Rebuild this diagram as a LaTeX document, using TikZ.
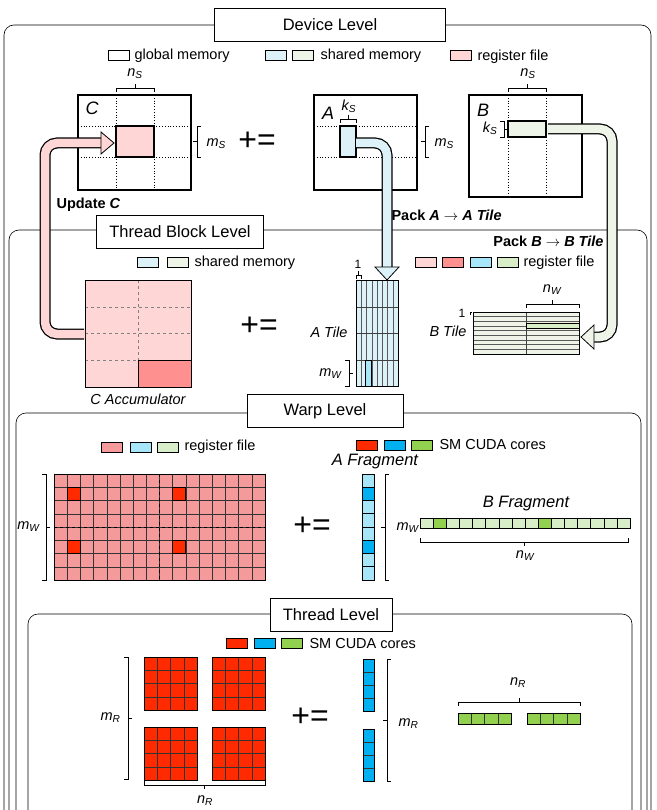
\documentclass[tikz,border=0pt]{standalone}
\usepackage{fontspec}
\setmainfont{Liberation Sans}
\definecolor{lpink}{HTML}{FFD6D6}
\definecolor{dpink}{HTML}{FF9090}
\definecolor{wpink}{HTML}{F49A9A}
\definecolor{cred}{HTML}{FF2A00}
\definecolor{lblue}{HTML}{DDF2F8}
\definecolor{rblue}{HTML}{A6E6F8}
\definecolor{cblue}{HTML}{00B0F0}
\definecolor{lgreen}{HTML}{EEF4E8}
\definecolor{rgreen}{HTML}{D8EEC8}
\definecolor{cgreen}{HTML}{92D050}
\newcommand{\ms}[2]{\textit{#1}\textsubscript{\textit{#2}}}
\newcommand{\hbrk}[4]{\draw[thick] (#1,#3-4*#4)--(#1,#3)--(#2,#3)--(#2,#3-4*#4); \draw[thick] ({(#1+#2)/2},#3)--({(#1+#2)/2},#3+4*#4);}
\newcommand{\vbrk}[4]{\draw[thick] (#3-4*#4,#1)--(#3,#1)--(#3,#2)--(#3-4*#4,#2); \draw[thick] (#3,{(#1+#2)/2})--(#3+4*#4,{(#1+#2)/2});}
\begin{document}
\begin{tikzpicture}[x=1pt,y=-1pt,
  lvl/.style={draw,thick,fill=white,minimum height=33pt,font=\fontsize{16.5}{17}\selectfont},
  frame/.style={draw,semithick,rounded corners=10pt},
  leg/.style={draw,minimum width=21pt,minimum height=10pt,inner sep=0pt},
  lt/.style={anchor=west,font=\fontsize{14.5}{15}\selectfont},
  lab/.style={font=\fontsize{14.5}{15}\selectfont\itshape},
  bl/.style={font=\bfseries\fontsize{14.5}{15}\selectfont},
  pe/.style={font=\fontsize{32}{32}\selectfont},
  mat/.style={draw,line width=1.5pt},
  dots/.style={dotted,thick}]
\useasboundingbox (0,0) rectangle (656,810);
\clip (0,0) rectangle (656,810);
% frames
\draw[frame] (4,830)--(4,25)--(651,25)--(651,830);
\draw[frame] (9,830)--(9,230)--(647,230)--(647,830);
\draw[frame] (16,830)--(16,413)--(641,413)--(641,830);
\draw[frame] (28,830)--(28,614)--(632,614)--(632,830);
\node[lvl,minimum width=231pt] (dev) at (330,25) {Device Level};
% device legend
\node[leg] (g1) at (119,55) {}; \node[lt] at (131,56) {global memory};
\node[leg,fill=lblue] (s1) at (276,55) {}; \node[leg,fill=lgreen] (s2) at (303,55) {}; \node[lt] at (317,56) {shared memory};
\node[leg,fill=lpink] (r1) at (461,55) {}; \node[lt] at (474,57) {register file};
% C
\draw[mat] (78,95) rectangle (191,190);
\draw[dots] (116,95)--(116,190) (154,95)--(154,190) (78,126)--(191,126) (78,157)--(191,157);
\draw[mat,fill=lpink] (116,126) rectangle (154,157);
\node[lab,font=\fontsize{18}{18}\selectfont\itshape] at (92,108) {C};
\hbrk{116}{154}{88}{-1} \node[lab] at (135,74) {\ms{n}{S}};
\vbrk{126}{157}{197}{-1} \node[lab,anchor=west] at (203,144) {\ms{m}{S}};
\node[pe] at (257,141) {+=};
% A
\draw[mat] (314,95) rectangle (417,190);
\draw[dots] (314,126)--(417,126) (314,157)--(417,157);
\draw[mat,fill=lblue] (340,126) rectangle (356,157);
\node[lab,font=\fontsize{18}{18}\selectfont\itshape] at (328,113) {A};
\hbrk{340}{356}{119}{-1} \node[lab] at (349,106) {\ms{k}{S}};
\vbrk{126}{157}{425}{-1} \node[lab,anchor=west] at (431,144) {\ms{m}{S}};
% B
\draw[mat] (469,95) rectangle (582,197);
\draw[dots] (508,95)--(508,197) (546,95)--(546,197);
\draw[mat,fill=lgreen] (508,121) rectangle (546,137);
\node[lab,font=\fontsize{18}{18}\selectfont\itshape] at (483,110) {B};
\hbrk{508}{546}{88}{-1} \node[lab] at (528,74) {\ms{n}{S}};
\vbrk{121}{137}{504}{1} \node[lab,anchor=east] at (501,128) {\ms{k}{S}};
\node[bl,anchor=west] at (53,205) {Update \textit{C}};
\node[bl,anchor=west] at (388,215) {Pack \textit{A} $\rightarrow$ \textit{A Tile}};
\node[bl,anchor=east] at (607,241) {Pack \textit{B} $\rightarrow$ \textit{B Tile}};
% thread block level
\node[lvl,minimum width=167pt] (tb) at (180,232) {Thread Block Level};
\node[leg,fill=lblue] at (148,262) {}; \node[leg,fill=lgreen] at (178,262) {}; \node[lt] at (191,263) {shared memory};
\node[leg,fill=lpink] at (426,262) {}; \node[leg,fill=dpink] at (453,262) {}; \node[leg,fill=rblue] at (481,262) {}; \node[leg,fill=rgreen] at (508,262) {}; \node[lt] at (520,263) {register file};
% C accumulator
\draw[thick,fill=lpink] (85,280) rectangle (191,387);
\draw[dashed,gray] (138,280)--(138,387) (85,307)--(191,307) (85,333)--(191,333) (85,360)--(191,360);
\draw[thick,fill=dpink] (138,360) rectangle (191,387);
\draw[thick] (85,280) rectangle (191,387);
\node[lab] at (138,399) {C Accumulator};
\node[pe] at (259,326) {+=};
% A tile
\draw[thick,fill=lblue] (356,280) rectangle (398,386);
\foreach \i in {1,...,7} \draw[gray!70!black,thin] ({356+\i*5.25},280)--({356+\i*5.25},386);
\draw[gray!50!black] (356,307)--(398,307) (356,333)--(398,333) (356,360)--(398,360);
\draw[thick] (356,280) rectangle (398,386);
\draw[thick,fill=rblue] (365,360) rectangle (371,386);
\hbrk{356}{361}{275}{-1} \node[font=\fontsize{12}{12}\selectfont] at (358,264) {1};
\node[lab,anchor=east] at (351,332) {A Tile};
\vbrk{360}{386}{349}{1} \node[lab,anchor=east] at (345,374) {\ms{m}{W}};
% B tile
\draw[thick,fill=lgreen] (473,312) rectangle (579,354);
\foreach \i in {1,...,8} \draw[gray!70!black,thin] (473,{312+\i*4.67})--(579,{312+\i*4.67});
\draw[gray!50!black] (526,312)--(526,354);
\draw[thick] (473,312) rectangle (579,354);
\draw[thick,fill=rgreen] (526,323) rectangle (579,328);
\hbrk{526}{579}{304}{-1} \node[lab] at (552,290) {\ms{n}{W}};
\draw (472,312)--(470,312)--(470,315); \node[font=\fontsize{12}{12}\selectfont] at (462,313) {1};
\node[lab,anchor=east] at (470,331) {B Tile};
% fat arrows
\draw[line width=11pt,rounded corners=12pt] (357,143)--(387,143)--(387,268);
\draw[line width=8.5pt,lblue,rounded corners=12pt] (356,143)--(387,143)--(387,269);
\draw[thick,fill=lblue] (375,267)--(399,267)--(387,280)--cycle;
\draw[line width=11pt,rounded corners=12pt] (548,129)--(612,129)--(612,337)--(594,337);
\draw[line width=8.5pt,lgreen,rounded corners=12pt] (547,129)--(612,129)--(612,337)--(593,337);
\draw[thick,fill=lgreen] (594,325)--(594,349)--(581,337)--cycle;
\draw[line width=11pt,rounded corners=12pt] (84,334)--(45,334)--(45,143)--(101,143);
\draw[line width=8.5pt,lpink,rounded corners=12pt] (85,334)--(45,334)--(45,143)--(102,143);
\draw[thick,fill=lpink] (101,132)--(101,154)--(114,143)--cycle;
% warp level
\node[lvl,minimum width=156pt] (wl) at (325,411) {Warp Level};
\node[leg,fill=wpink] at (112,447) {}; \node[leg,fill=rblue] at (141,447) {}; \node[leg,fill=rgreen] at (168,447) {}; \node[lt] at (181,447) {register file};
\node[leg,fill=cred] at (367,445) {}; \node[leg,fill=cblue] at (395,445) {}; \node[leg,fill=cgreen] at (422,445) {}; \node[lt] at (436,445) {SM CUDA cores};
\draw[thick,fill=wpink] (54,474) rectangle (265,580);
\foreach \i in {1,...,15} \draw[gray!40!black,thin] ({54+\i*13.1875},474)--({54+\i*13.1875},580);
\foreach \i in {1,...,7} \draw[gray!40!black,thin] (54,{474+\i*13.25})--(265,{474+\i*13.25});
\draw[dashed,thick] (159.5,474)--(159.5,580) (54,527)--(265,527);
\foreach \cx/\cy in {1/1,9/1,1/5,9/5} \draw[thick,fill=cred] ({54+\cx*13.1875},{474+\cy*13.25}) rectangle ++(13.1875,13.25);
\draw[thick] (54,474) rectangle (265,580);
\vbrk{474}{580}{46}{1} \node[lab,anchor=east] at (43,527) {\ms{m}{W}};
\node[pe] at (312,526) {+=};
\node[lab,font=\fontsize{16.5}{17}\selectfont\itshape] at (375,462) {A Fragment};
\foreach \i in {0,...,7} \draw[thick,fill=rblue] (362,{474+\i*13.25}) rectangle ++(12,13.25);
\foreach \i in {1,5} \draw[thick,fill=cblue] (362,{474+\i*13.25}) rectangle ++(12,13.25);
\vbrk{474}{580}{385}{-1} \node[lab,anchor=west] at (393,528) {\ms{m}{W}};
\node[lab,font=\fontsize{16.5}{17}\selectfont\itshape] at (526,504) {B Fragment};
\foreach \i in {0,...,15} \draw[thin,fill=rgreen] ({420+\i*13.125},518) rectangle ++(13.125,10);
\foreach \i in {1,9} \draw[thick,fill=cgreen] ({420+\i*13.125},518) rectangle ++(13.125,10);
\draw[thick] (420,518) rectangle (630,528);
\hbrk{420}{628}{542}{1} \node[lab] at (525,556) {\ms{n}{W}};
% thread level
\node[lvl,minimum width=122pt] (tl) at (331,615) {Thread Level};
\node[leg,fill=cred] at (237,643) {}; \node[leg,fill=cblue] at (265,643) {}; \node[leg,fill=cgreen] at (292,643) {}; \node[lt] at (306,644) {SM CUDA cores};
\foreach \bx/\by in {144/657,212/657,144/727,212/727} {
  \draw[thick,fill=cred] (\bx,\by) rectangle ++(53,53);
  \foreach \i in {1,2,3} { \draw[gray!40!black,thin] ({\bx+\i*13.25},\by)--++(0,53); \draw[gray!40!black,thin] (\bx,{\by+\i*13.25})--++(53,0); }
  \draw[thick] (\bx,\by) rectangle ++(53,53);
}
\vbrk{657}{779}{128}{1} \node[lab,anchor=east] at (124,718) {\ms{m}{R}};
\hbrk{144}{265}{785}{1} \node[lab] at (205,801) {\ms{n}{R}};
\node[pe] at (310,717) {+=};
\foreach \by in {659,729} {
  \draw[thick,fill=cblue] (363,\by) rectangle ++(11,52);
  \foreach \i in {1,2,3} \draw[gray!40!black,thin] (363,{\by+\i*13})--++(11,0);
  \draw[thick] (363,\by) rectangle ++(11,52);
}
\vbrk{659}{781}{387}{-1} \node[lab,anchor=west] at (395,724) {\ms{m}{R}};
\foreach \bx in {458,527} {
  \draw[thick,fill=cgreen] (\bx,713) rectangle ++(53,11);
  \foreach \i in {1,2,3} \draw[gray!40!black,thin] ({\bx+\i*13.25},713)--++(0,11);
  \draw[thick] (\bx,713) rectangle ++(53,11);
}
\hbrk{458}{580}{702}{-1} \node[lab] at (518,683) {\ms{n}{R}};
\end{tikzpicture}
\end{document}
